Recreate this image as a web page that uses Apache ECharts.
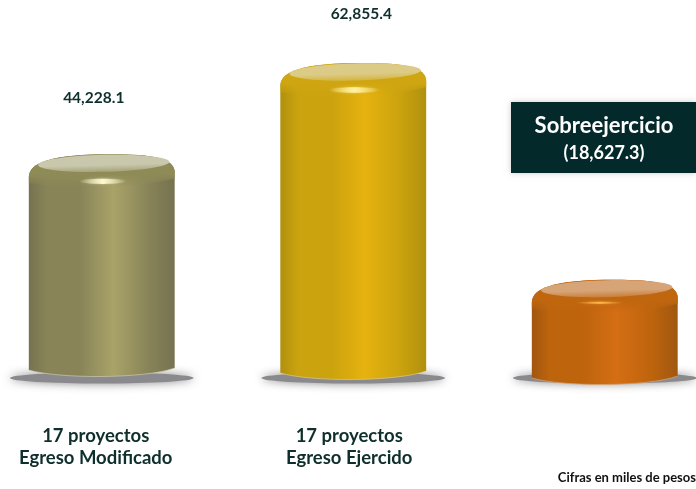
<!DOCTYPE html>
<html><head><meta charset="utf-8">
<style>html,body{margin:0;padding:0;background:#fff}#c{width:696px;height:489px}</style>
<script src="https://cdn.jsdelivr.net/npm/echarts@6/dist/echarts.min.js"></script>
</head><body><div id="c"></div>
<script>
const categories = ['17 proyectos\nEgreso Modificado', '17 proyectos\nEgreso Ejercido', 'Sobreejercicio'];
const values = [44228.1, 62855.4, 18627.3];
const footnote = 'Cifras en miles de pesos';

const palettes = [
  {edge:'#757250', dark:'#888458', mid:'#a9a369', cap:'#c9c8ad', rim:'#8f8b57', hi:'#fff8d0'},
  {edge:'#b0900f', dark:'#cba30e', mid:'#e6b20f', cap:'#dccb86', rim:'#cfa612', hi:'#fff2a0'},
  {edge:'#a05710', dark:'#bd640d', mid:'#d56e14', cap:'#d6a477', rim:'#c0660f', hi:'#ffb84a'}
];
const footDepth = [7, 10, 15];
const labelOffset = [[-8, -56], [8, -49]];
const hiOffset = [[1, 27, 24, 2.6], [1, 27, 26, 2.8], [-5, 23, 24, 1]];
const labelShift = [12, 8, 12];
const DARK = '#0f2f2c';
const fmt = v => v.toLocaleString('en-US', {minimumFractionDigits: 1, maximumFractionDigits: 1});

function hGrad(p) {
  return {type:'linear', x:0, y:0, x2:1, y2:0, colorStops:[
    {offset:0, color:p.edge},{offset:0.12, color:p.dark},{offset:0.35, color:p.dark},
    {offset:0.58, color:p.mid},{offset:0.82, color:p.dark},{offset:1, color:p.edge}]};
}
function renderItem(params, api) {
  const i = params.dataIndex, p = palettes[i];
  const c = api.coord([api.value(0), api.value(1)]);
  const base = api.coord([api.value(0), 0])[1];
  const w = api.size([1, 0])[0] * 0.58;
  const cx = c[0], top = c[1], x0 = cx - w / 2, x1 = cx + w / 2;
  const bot = base + footDepth[i];
  const outlineTop = `M${x0},${top+23} C${x0},${top+8} ${cx-50},${top} ${cx+10},${top} C${cx+50},${top} ${x1},${top+4} ${x1},${top+18}`;
  const lower = `C${x1-30},${bot+1} ${x0+30},${bot+1} ${x0},${bot-8}`;
  const body = `${outlineTop} L${x1},${bot-10} ${lower} Z`;
  const shoulder = `${outlineTop} L${x1},${top+24} C${x1-35},${top+34} ${x0+35},${top+36} ${x0},${top+29} Z`;
  const h = hiOffset[i];
  const kids = [
    {type:'ellipse', shape:{cx:cx, cy:base+7, rx:w*0.63, ry:5.5},
      style:{fill:'#8a8a8e', shadowBlur:10, shadowColor:'rgba(110,110,110,0.85)'}},
    {type:'path', shape:{pathData:body}, style:{fill:hGrad(p)}},
    {type:'path', shape:{pathData:`M${x1},${bot-10} ${lower}`},
      style:{fill:'none', stroke:p.cap, lineWidth:1, opacity:0.7}},
    {type:'path', shape:{pathData:shoulder},
      style:{fill:{type:'linear',x:0,y:0,x2:0,y2:1,colorStops:[
        {offset:0, color:p.rim},{offset:0.6, color:p.rim},{offset:1, color:p.rim+'00'}]}}},
    {type:'ellipse', shape:{cx:cx+2, cy:top+9, rx:w*0.45, ry:8.5}, rotation:0.025, originX:cx+2, originY:top+9,
      style:{fill:{type:'linear',x:0,y:0,x2:0,y2:1,colorStops:[
        {offset:0, color:p.cap},{offset:0.6, color:p.cap},{offset:1, color:p.cap+'66'}]}}},
    {type:'ellipse', shape:{cx:cx+h[0], cy:top+h[1], rx:h[2], ry:h[3]},
      style:{fill:{type:'linear',x:0,y:0,x2:1,y2:0,colorStops:[
        {offset:0, color:p.hi+'00'},{offset:0.5, color:p.hi},{offset:1, color:p.hi+'00'}]},
        shadowBlur:3, shadowColor:p.hi+'88'}}
  ];
  if (i < 2) {
    kids.push({type:'text', style:{text:fmt(values[i]), x:cx+labelOffset[i][0], y:top+labelOffset[i][1],
      fontFamily:'Lato', fontWeight:'bold', fontSize:15.5, fill:DARK, align:'center', verticalAlign:'middle'}});
  } else {
    kids.push({type:'rect', shape:{x:511, y:102, width:185, height:71},
      style:{fill:'#04292a', shadowBlur:6, shadowColor:'rgba(0,0,0,0.2)'}});
    kids.push({type:'text', style:{text:categories[i], x:604, y:126,
      fontFamily:'Lato', fontWeight:'bold', fontSize:22, fill:'#fff', align:'center', verticalAlign:'middle'}});
    kids.push({type:'text', style:{text:'(' + fmt(values[i]) + ')', x:604, y:153,
      fontFamily:'Lato', fontWeight:'bold', fontSize:18, fill:'#fff', align:'center', verticalAlign:'middle'}});
  }
  return {type:'group', children:kids};
}
const chart = echarts.init(document.getElementById('c'), null, {renderer:'canvas'});
chart.setOption({
  animation:false,
  backgroundColor:'#fff',
  grid:{left:-24, top:28, width:754.5, height:343, outerBoundsMode:'none'},
  xAxis:{type:'category',
    data:categories.map((c,i)=>({value:c, textStyle:{padding:[0,labelShift[i],0,0]}})),
    axisLine:{show:false}, axisTick:{show:false},
    axisLabel:{interval:0, margin:54, fontFamily:'Lato', fontWeight:'bold', fontSize:18.5, color:DARK, lineHeight:22,
      formatter:(v, i) => i < 2 ? v : ''}},
  yAxis:{type:'value', min:0, max:70000, show:false, splitLine:{show:false}},
  graphic:[{type:'text', right:0, top:471, style:{text:footnote, fontFamily:'Lato', fontWeight:'bold', fontSize:13, fill:'#111'}}],
  series:[{type:'custom', renderItem:renderItem, clip:false, encode:{x:0, y:1},
    data:values.map((v,i)=>[i,v])}]
});
</script></body></html>
